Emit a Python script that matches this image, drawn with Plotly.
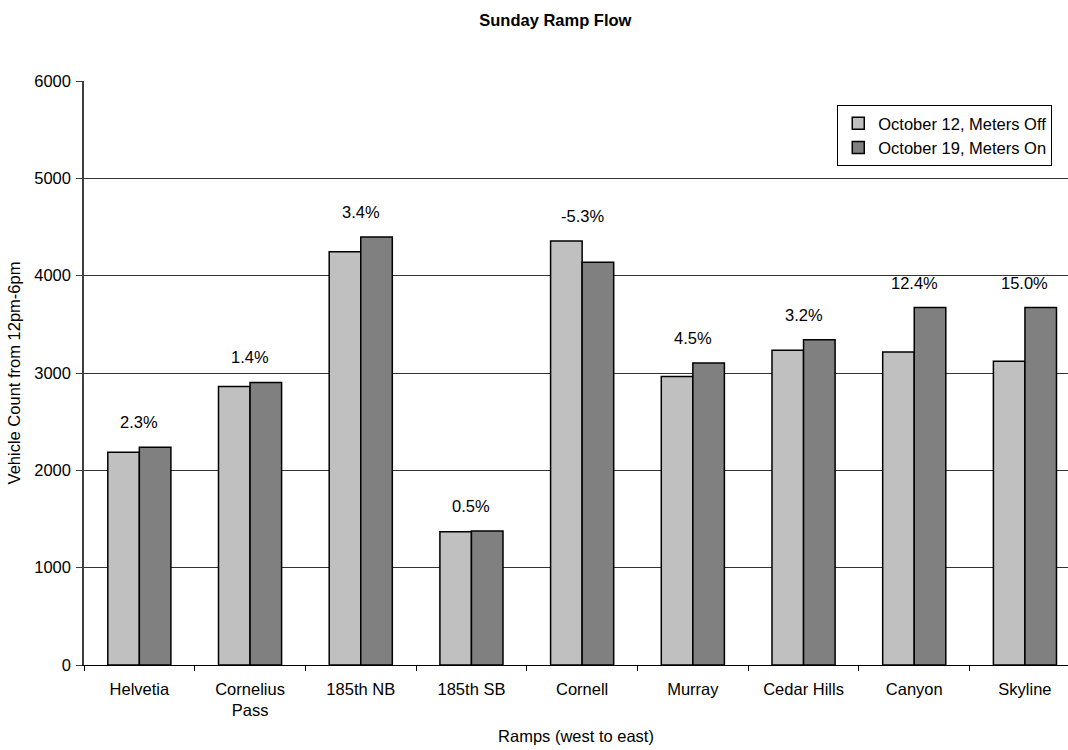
import plotly.graph_objects as go

# Ramp flow counts, Sunday 12pm-6pm
ramps = ["Helvetia", "Cornelius<br>Pass", "185th NB", "185th SB", "Cornell",
         "Murray", "Cedar Hills", "Canyon", "Skyline"]
meters_off = [2185, 2862, 4247, 1369, 4357, 2963, 3234, 3215, 3120]
meters_on = [2237, 2903, 4397, 1376, 4138, 3103, 3341, 3672, 3672]
change_labels = ["2.3%", "1.4%", "3.4%", "0.5%", "-5.3%", "4.5%", "3.2%", "12.4%", "15.0%"]

FONT = "Liberation Sans, Arial, sans-serif"
FS = 16.5

fig = go.Figure()
fig.add_trace(go.Bar(
    x=ramps, y=meters_off, name="October 12, Meters Off",
    marker=dict(color="#C0C0C0", line=dict(color="#000000", width=1.5)),
))
fig.add_trace(go.Bar(
    x=ramps, y=meters_on, name="October 19, Meters On",
    marker=dict(color="#808080", line=dict(color="#000000", width=1.5)),
))

# Percent change labels above each ramp group
for r, a, b, lab in zip(ramps, meters_off, meters_on, change_labels):
    fig.add_annotation(x=r, y=max(a, b), text=lab, showarrow=False,
                       xref="x", yref="y", yanchor="middle", yshift=25,
                       font=dict(family=FONT, size=FS, color="#000000"))

fig.update_layout(
    width=1068, height=750,
    margin=dict(l=84, r=0, t=81, b=85),
    paper_bgcolor="white", plot_bgcolor="white",
    barmode="group", bargap=0.43, bargroupgap=0,
    font=dict(family=FONT, size=FS, color="#000000"),
    title=dict(text="<b>Sunday Ramp Flow</b>", xref="container", x=0.52,
               xanchor="center", yref="container", y=0.973, yanchor="middle",
               font=dict(family=FONT, size=FS, color="#000000")),
    showlegend=True,
    legend=dict(x=0.984, xanchor="right", y=0.959, yanchor="top",
                bgcolor="white", bordercolor="#000000", borderwidth=1,
                font=dict(family=FONT, size=FS, color="#000000")),
    xaxis=dict(
        title=dict(text="Ramps (west to east)", standoff=12,
                   font=dict(family=FONT, size=FS)),
        tickfont=dict(family=FONT, size=FS),
        range=[-0.5, 8.389],
        showline=True, linecolor="#000000", linewidth=1,
        ticks="outside", ticklen=5, tickcolor="#000000",
        tickson="boundaries", ticklabelstandoff=9, showgrid=False,
    ),
    yaxis=dict(
        title=dict(text="Vehicle Count from 12pm-6pm", standoff=9,
                   font=dict(family=FONT, size=FS)),
        tickfont=dict(family=FONT, size=FS),
        range=[0, 6000], dtick=1000,
        showline=True, linecolor="#404040", linewidth=1.5,
        ticks="outside", ticklen=6, tickcolor="#404040",
        ticklabelstandoff=2,
        showgrid=True, gridcolor="#333333", gridwidth=1,
        zeroline=False,
    ),
)

fig.write_html("out.html")
